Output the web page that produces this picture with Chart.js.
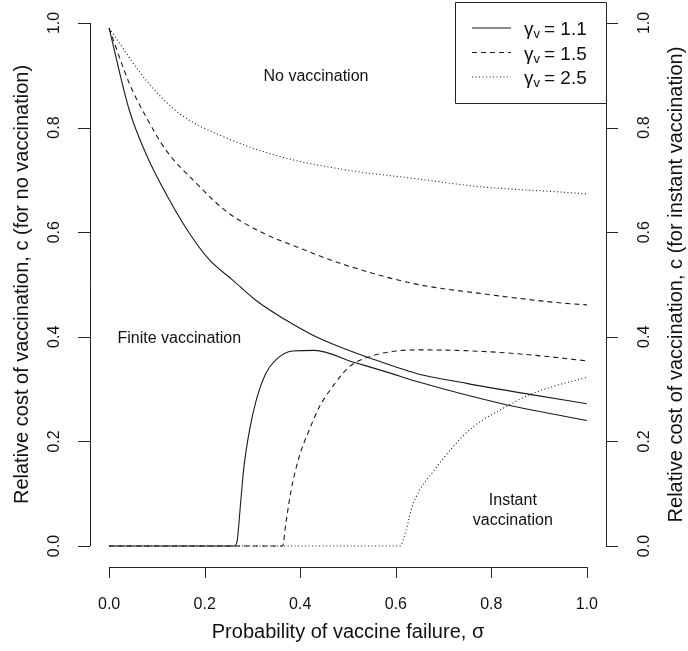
<!DOCTYPE html>
<html>
<head>
<meta charset="utf-8">
<script src="https://cdn.jsdelivr.net/npm/chart.js@4.4.1/dist/chart.umd.min.js"></script>
<style>
  body { margin: 0; background: #fff; }
</style>
</head>
<body>
<canvas id="chart" width="688" height="651"></canvas>
<script>
// values
var gammaValues = ['1.1', '1.5', '2.5'];
var tickValues = [0, 0.2, 0.4, 0.6, 0.8, 1.0];

// upper boundaries (no vaccination / finite vaccination)
var upperSigma11 = [0, 0.042, 0.077, 0.126, 0.168, 0.210, 0.258, 0.307, 0.370, 0.433, 0.482, 0.538, 0.643, 0.748, 0.887, 1.0];
var upperC11 = [0.99, 0.834, 0.750, 0.662, 0.598, 0.547, 0.509, 0.470, 0.432, 0.400, 0.381, 0.362, 0.330, 0.311, 0.289, 0.272];
var upperSigma15 = [0, 0.042, 0.077, 0.119, 0.182, 0.245, 0.314, 0.398, 0.482, 0.636, 0.776, 0.954, 1.0];
var upperC15 = [0.99, 0.885, 0.821, 0.757, 0.694, 0.640, 0.602, 0.570, 0.541, 0.502, 0.483, 0.464, 0.461];
var upperSigma25 = [0, 0.077, 0.147, 0.238, 0.356, 0.496, 0.636, 0.776, 0.957, 1.0];
var upperC25 = [0.99, 0.891, 0.827, 0.783, 0.745, 0.719, 0.703, 0.687, 0.676, 0.673];

// lower boundaries (finite vaccination / instant vaccination)
var lowerSigma11 = [0, 0.262, 0.268, 0.275, 0.282, 0.294, 0.308, 0.328, 0.349, 0.384, 0.430, 0.510, 0.580, 0.650, 0.818, 1.0];
var lowerC11 = [0, 0, 0.010, 0.080, 0.150, 0.222, 0.279, 0.330, 0.356, 0.373, 0.374, 0.352, 0.333, 0.313, 0.273, 0.240];
var lowerSigma15 = [0, 0.363, 0.370, 0.381, 0.398, 0.419, 0.440, 0.468, 0.503, 0.545, 0.601, 0.650, 0.783, 0.887, 1.0];
var lowerC15 = [0, 0, 0.044, 0.107, 0.171, 0.222, 0.266, 0.305, 0.343, 0.362, 0.373, 0.375, 0.372, 0.365, 0.354];
var lowerSigma25 = [0, 0.608, 0.622, 0.632, 0.650, 0.678, 0.720, 0.762, 0.818, 0.887, 1.0];
var lowerC25 = [0, 0, 0.031, 0.069, 0.107, 0.142, 0.190, 0.228, 0.260, 0.292, 0.323];

var dashes = [[], [5, 4], [1, 2.5]];
var lineColor = '#1a1a1a';
var textColor = '#111';

function pts(xs, ys) {
  return xs.map(function (x, i) { return { x: x, y: ys[i] }; });
}

function curve(label, xs, ys, k, legend) {
  return {
    label: label,
    data: pts(xs, ys),
    borderColor: lineColor,
    borderWidth: 1.1,
    borderDash: dashes[k],
    pointRadius: 0,
    cubicInterpolationMode: 'monotone',
    fill: false,
    legendIndex: legend ? k : -1
  };
}

var datasets = [
  curve('γv = ' + gammaValues[0], upperSigma11, upperC11, 0, true),
  curve('γv = ' + gammaValues[1], upperSigma15, upperC15, 1, true),
  curve('γv = ' + gammaValues[2], upperSigma25, upperC25, 2, true),
  curve('', lowerSigma11, lowerC11, 0, false),
  curve('', lowerSigma15, lowerC15, 1, false),
  curve('', lowerSigma25, lowerC25, 2, false)
];

// R-style axes, titles, annotations and legend
var rStyle = {
  id: 'rStyle',
  afterDraw: function (chart) {
    var c = chart.ctx, a = chart.chartArea;
    var xs = chart.scales.x, ys = chart.scales.y;
    c.save();
    c.strokeStyle = '#222';
    c.lineWidth = 1;
    c.fillStyle = textColor;

    var x0 = xs.getPixelForValue(0), x1 = xs.getPixelForValue(1);
    var y0 = ys.getPixelForValue(0), y1 = ys.getPixelForValue(1);
    c.beginPath();
    // bottom axis
    c.moveTo(x0, a.bottom + 0.5); c.lineTo(x1, a.bottom + 0.5);
    // left axis
    c.moveTo(a.left + 0.5, y0); c.lineTo(a.left + 0.5, y1);
    // right axis
    c.moveTo(a.right + 0.5, y0); c.lineTo(a.right + 0.5, y1);
    tickValues.forEach(function (v) {
      var px = Math.round(xs.getPixelForValue(v)) + 0.5;
      var py = Math.round(ys.getPixelForValue(v)) + 0.5;
      c.moveTo(px, a.bottom); c.lineTo(px, a.bottom + 11);
      c.moveTo(a.left, py); c.lineTo(a.left - 12, py);
      c.moveTo(a.right, py); c.lineTo(a.right + 12, py);
    });
    c.stroke();

    c.font = '16px "Liberation Sans", Arial, sans-serif';
    c.textAlign = 'center';
    c.textBaseline = 'middle';
    tickValues.forEach(function (v) {
      var lbl = v.toFixed(1);
      c.fillText(lbl, xs.getPixelForValue(v), a.bottom + 38);
      [a.left - 35, a.right + 39].forEach(function (tx) {
        c.save();
        c.translate(tx, ys.getPixelForValue(v));
        c.rotate(-Math.PI / 2);
        c.fillText(lbl, 0, 0);
        c.restore();
      });
    });

    // axis titles
    c.font = '20px "Liberation Sans", Arial, sans-serif';
    var midY = (a.top + a.bottom) / 2;
    c.fillText('Probability of vaccine failure, σ', (a.left + a.right) / 2, a.bottom + 65);
    c.save();
    c.translate(a.left - 68, midY); c.rotate(-Math.PI / 2);
    c.fillText('Relative cost of vaccination, c (for no vaccination)', 0, 0);
    c.restore();
    c.save();
    c.translate(a.right + 70, midY); c.rotate(-Math.PI / 2);
    c.fillText('Relative cost of vaccination, c (for instant vaccination)', 0, 0);
    c.restore();

    // region annotations
    c.font = '16px "Liberation Sans", Arial, sans-serif';
    c.fillText('No vaccination', xs.getPixelForValue(0.433), ys.getPixelForValue(0.897));
    c.fillText('Finite vaccination', xs.getPixelForValue(0.147), ys.getPixelForValue(0.396));
    c.fillText('Instant', xs.getPixelForValue(0.845), ys.getPixelForValue(0.086));
    c.fillText('vaccination', xs.getPixelForValue(0.845), ys.getPixelForValue(0.048));

    // legend box
    var bw = 151, bh = 101;
    var bx = a.right - bw, by = a.top;
    c.beginPath();
    c.rect(Math.round(bx) + 0.5, Math.round(by) + 0.5, bw, bh);
    c.stroke();
    chart.data.datasets.forEach(function (ds) {
      if (ds.legendIndex < 0) return;
      var k = ds.legendIndex;
      var ry = by + 26 + k * 24.5;
      c.save();
      c.strokeStyle = lineColor;
      c.lineWidth = 1.1;
      c.setLineDash(ds.borderDash);
      c.beginPath();
      c.moveTo(bx + 17, ry); c.lineTo(bx + 56, ry);
      c.stroke();
      c.restore();
      c.textAlign = 'left';
      c.textBaseline = 'alphabetic';
      var tx = bx + 69, base = ry + 7;
      c.font = '19px "Liberation Sans", Arial, sans-serif';
      c.fillText('γ', tx, base);
      tx += c.measureText('γ').width;
      c.font = '13px "Liberation Sans", Arial, sans-serif';
      c.fillText('v', tx, base + 3);
      tx += c.measureText('v').width + 4;
      c.font = '19px "Liberation Sans", Arial, sans-serif';
      c.fillText('= ' + gammaValues[k], tx, base);
    });
    c.restore();
  }
};

new Chart(document.getElementById('chart').getContext('2d'), {
  type: 'line',
  data: { datasets: datasets },
  options: {
    responsive: false,
    animation: false,
    layout: { padding: { left: 90, right: 82, top: 2, bottom: 84 } },
    plugins: { legend: { display: false }, tooltip: { enabled: false } },
    scales: {
      x: { type: 'linear', min: -0.04, max: 1.04, display: false },
      y: { type: 'linear', min: -0.04, max: 1.04, display: false }
    }
  },
  plugins: [rStyle]
});
</script>
</body>
</html>
